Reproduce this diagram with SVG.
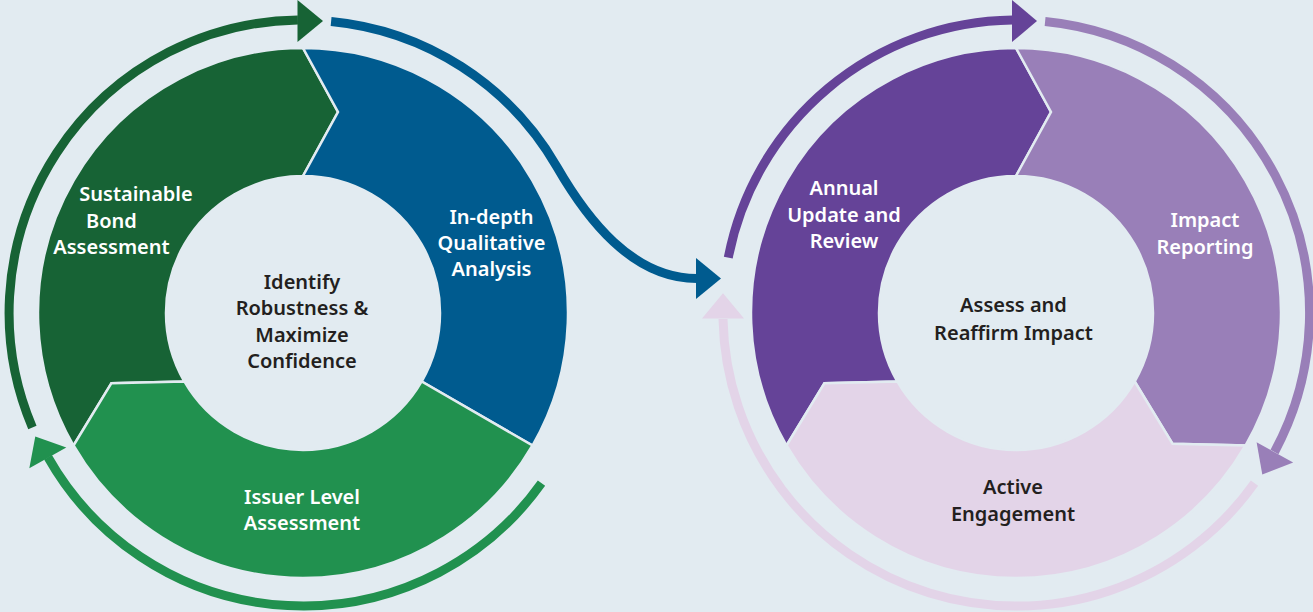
<svg xmlns="http://www.w3.org/2000/svg" width="1313" height="612" viewBox="0 0 1313 612">
<style>
.bg{fill:#e2ebf1}
.seg{stroke:#e2ebf1;stroke-width:2.5;stroke-linejoin:miter}
.arc{fill:none;stroke-width:9;stroke-linecap:butt}
text{font-family:"Noto Sans","Open Sans","Liberation Sans",sans-serif;font-size:20px;font-weight:600;text-anchor:middle}
.w{fill:#ffffff}
.d{fill:#231f20}
</style>
<rect class="bg" x="0" y="0" width="1313" height="612"/>
<g id="connectors">
<path class="arc" stroke="#176335" d="M 32.4,427.5 A 293 293 0 0 1 297.9,20.0"/>
<polygon fill="#176335" points="297.5,0 297.5,42 323,21"/>
<path class="arc" stroke="#005b8f" stroke-width="10" d="M 331.1,21.4 A 293 293 0 0 1 556.7,166.5 C 586.7,218.5 632,278.5 697,278.5"/>
<polygon fill="#005b8f" points="696,258 696,299 721,278.5"/>
<path class="arc" stroke="#21914f" d="M 541.5,483.2 A 293 293 0 0 1 48,457.3"/>
<polygon fill="#21914f" points="29.3,468.3 66.3,447.6 35.3,436.5"/>
<path class="arc" stroke="#654398" d="M 728.3,257.6 A 293 293 0 0 1 1012.5,20.0"/>
<polygon fill="#654398" points="1012,0 1012,42 1037,21"/>
<path class="arc" stroke="#997fb8" d="M 1045.1,21.4 A 293 293 0 0 1 1274.5,452"/>
<polygon fill="#997fb8" points="1256.6,442.2 1293.2,462.6 1262.3,474.6"/>
<path class="arc" stroke="#e3d4e8" stroke-width="10" d="M 1254.5,483.2 A 293 293 0 0 1 723,319"/>
<polygon fill="#e3d4e8" points="702,318.5 744,318.5 723,293.3"/>
</g>
<g id="node-sustainable">
<path class="seg" fill="#176335" d="M 73.51,445.5 A 265 265 0 0 1 303,48 L 338,112 L 303,176 A 137 137 0 0 0 184.35,381.5 L 111.43,383.19 Z"/>
<text class="w" x="136" y="201">Sustainable</text>
<text class="w" x="111.5" y="227.5">Bond</text>
<text class="w" x="111.5" y="254">Assessment</text>
</g>
<g id="node-indepth">
<path class="seg" fill="#005b8f" d="M 303,48 A 265 265 0 0 1 532.49,445.5 L 421.65,381.5 A 137 137 0 0 0 303,176 L 338,112 Z"/>
<text class="w" x="491.5" y="223.5">In-depth</text>
<text class="w" x="491.5" y="250">Qualitative</text>
<text class="w" x="491.5" y="276">Analysis</text>
</g>
<g id="node-issuer">
<path class="seg" fill="#21914f" d="M 532.49,445.5 A 265 265 0 0 1 73.51,445.5 L 111.43,383.19 L 184.35,381.5 A 137 137 0 0 0 421.65,381.5 Z"/>
<text class="w" x="302" y="503.5">Issuer Level</text>
<text class="w" x="302" y="530">Assessment</text>
</g>
<g id="node-identify">
<circle class="bg" cx="303" cy="313" r="136"/>
<text class="d" x="302" y="288.5">Identify</text>
<text class="d" x="302" y="315">Robustness &amp;</text>
<text class="d" x="302" y="341.5">Maximize</text>
<text class="d" x="302" y="368">Confidence</text>
</g>
<g id="node-annual">
<path class="seg" fill="#654398" d="M 786.51,445.5 A 265 265 0 0 1 1016,48 L 1051,112 L 1016,176 A 137 137 0 0 0 897.35,381.5 L 824.43,383.19 Z"/>
<text class="w" x="844" y="195">Annual</text>
<text class="w" x="844" y="221.5">Update and</text>
<text class="w" x="844" y="248">Review</text>
</g>
<g id="node-impact">
<path class="seg" fill="#997fb8" d="M 1016,48 A 265 265 0 0 1 1245.49,445.5 L 1172.57,443.81 L 1134.65,381.5 A 137 137 0 0 0 1016,176 L 1051,112 Z"/>
<text class="w" x="1205" y="226.5">Impact</text>
<text class="w" x="1205" y="253.5">Reporting</text>
</g>
<g id="node-active">
<path class="seg" fill="#e3d4e8" d="M 1245.49,445.5 A 265 265 0 0 1 786.51,445.5 L 824.43,383.19 L 897.35,381.5 A 137 137 0 0 0 1134.65,381.5 L 1172.57,443.81 Z"/>
<text class="d" x="1013" y="494">Active</text>
<text class="d" x="1013" y="520.5">Engagement</text>
</g>
<g id="node-assess">
<circle class="bg" cx="1016" cy="313" r="136"/>
<text class="d" x="1013.5" y="312">Assess and</text>
<text class="d" x="1013.5" y="339.5">Reaffirm Impact</text>
</g>
</svg>
